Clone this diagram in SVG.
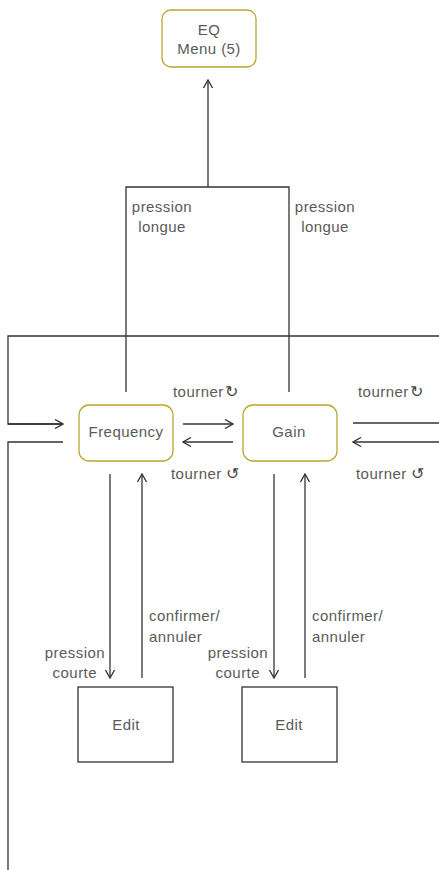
<svg xmlns="http://www.w3.org/2000/svg" width="439" height="870" viewBox="0 0 439 870">
<defs>
<marker id="ah" viewBox="0 0 10 10" refX="9" refY="5" markerWidth="10" markerHeight="10" markerUnits="userSpaceOnUse" orient="auto">
<path d="M1,0.5 L9,5 L1,9.5" fill="none" stroke="#333" stroke-width="1.3"/>
</marker>
<style>
.n{fill:#fff;stroke:#bca531;stroke-width:1.3}
.e{fill:#fff;stroke:#333;stroke-width:1.3}
.t{font-family:"Liberation Sans",Arial,sans-serif;font-size:15px;fill:#5a5a5a;letter-spacing:0.45px}
.c{text-anchor:middle}
.s{font-family:"Noto Sans CJK JP","DejaVu Sans",sans-serif;font-size:16px;font-weight:300;fill:#444;letter-spacing:0}
.l{fill:none;stroke:#333;stroke-width:1.3}
.a{marker-end:url(#ah)}
</style>
</defs>
<g id="connectors">
<path class="l a" d="M208,187 V80"/>
<path class="l" d="M126,392 V187 H289 V392"/>
<path class="l" d="M439,336 H8 V424 H63"/>
<path class="l a" d="M8,424 H63"/>
<path class="l" d="M63,442 H8 V870"/>
<path class="l a" d="M183,424 H233"/>
<path class="l a" d="M233,442 H183"/>
<path class="l" d="M353,423 H439"/>
<path class="l a" d="M439,442 H353"/>
<path class="l a" d="M110,474 V678"/>
<path class="l a" d="M142,678 V474"/>
<path class="l a" d="M274,474 V678"/>
<path class="l a" d="M305,678 V474"/>
</g>
<g id="labels">
<text class="t c" x="162" y="212">pression</text>
<text class="t c" x="162" y="232">longue</text>
<text class="t c" x="325" y="212">pression</text>
<text class="t c" x="325" y="232">longue</text>
<text class="t" x="173" y="397">tourner<tspan class="s" dx="1">↻</tspan></text>
<text class="t" x="171" y="479">tourner <tspan class="s">↺</tspan></text>
<text class="t" x="358" y="397">tourner<tspan class="s" dx="1">↻</tspan></text>
<text class="t" x="356" y="479">tourner <tspan class="s">↺</tspan></text>
<text class="t" x="149" y="621">confirmer/</text>
<text class="t" x="149" y="642">annuler</text>
<text class="t" x="312" y="621">confirmer/</text>
<text class="t" x="312" y="642">annuler</text>
<text class="t" x="105" y="658" text-anchor="end">pression</text>
<text class="t" x="97" y="678" text-anchor="end">courte</text>
<text class="t" x="268" y="658" text-anchor="end">pression</text>
<text class="t" x="260" y="678" text-anchor="end">courte</text>
</g>
<g id="eq">
<rect class="n" x="162" y="10" width="94" height="57" rx="9"/>
<text class="t c" x="209" y="35">EQ</text>
<text class="t c" x="209" y="54">Menu (5)</text>
</g>
<g id="frequency">
<rect class="n" x="79" y="405" width="94" height="56" rx="10"/>
<text class="t c" x="126" y="437">Frequency</text>
</g>
<g id="gain">
<rect class="n" x="243" y="405" width="94" height="56" rx="10"/>
<text class="t c" x="289" y="437">Gain</text>
</g>
<g id="edit1">
<rect class="e" x="78" y="687" width="95" height="75"/>
<text class="t c" x="126" y="730">Edit</text>
</g>
<g id="edit2">
<rect class="e" x="242" y="687" width="95" height="75"/>
<text class="t c" x="289" y="730">Edit</text>
</g>
</svg>
